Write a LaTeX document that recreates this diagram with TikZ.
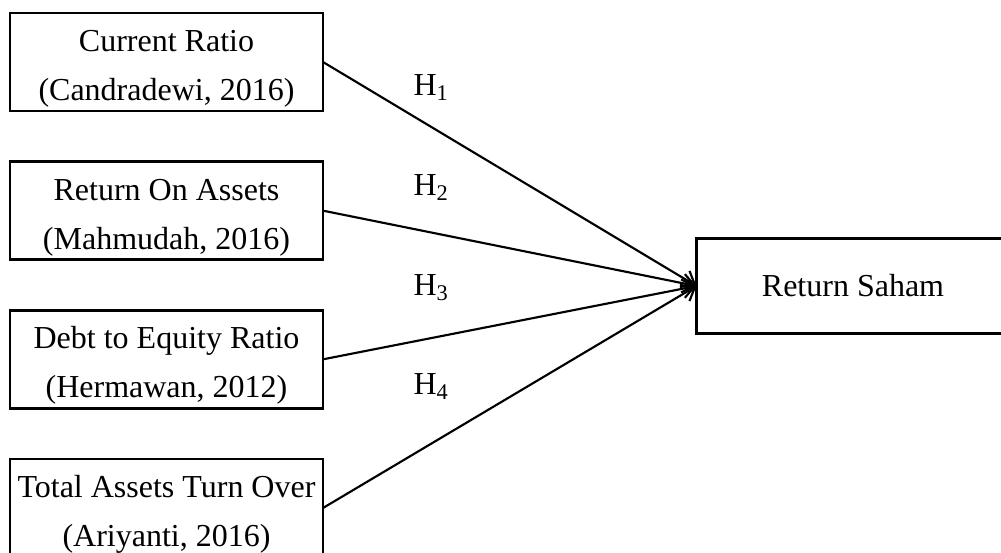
\documentclass[tikz,border=0pt]{standalone}
\usepackage{fontspec}
\setmainfont{Liberation Serif}
\usetikzlibrary{arrows.meta,positioning}
\newcommand{\topstrut}{\rule{0pt}{26pt}}

\begin{document}
\begin{tikzpicture}[x=0.75pt,y=-0.75pt,node distance=38pt and 38pt,
 box/.style={draw,line width=1.8pt,outer sep=0pt,inner sep=0pt,align=center,font=\fontsize{24}{36.75}\selectfont,minimum width=234.75pt,minimum height=73.5pt},
 hyp/.style={font=\fontsize{24}{28}\selectfont,inner sep=0pt},
 arrow/.style={-{Straight Barb[length=9pt,width=14pt]},line width=1.6pt}]
\path[use as bounding box,clip] (0,0) rectangle (1001,553);
\node[box] (cr) at (166.5,62) {\topstrut Current Ratio\\(Candradewi, 2016)};
\node[box,below=of cr] (roa) {\topstrut Return On Assets\\(Mahmudah, 2016)};
\node[box,below=of roa] (der) {\topstrut Debt to Equity Ratio\\(Hermawan, 2012)};
\node[box,below=of der] (tato) {\topstrut Total Assets Turn Over\\(Ariyanti, 2016)};
\node[box,minimum height=71.25pt] (rs) at (853,286) {Return Saham};
\draw[arrow] (cr.east)--(rs.west);
\draw[arrow] (roa.east)--(rs.west);
\draw[arrow] (der.east)--(rs.west);
\draw[arrow] (tato.east)--(rs.west);
\node[hyp] (h1) at (431,88) {H\textsubscript{1}};
\node[hyp] (h2) at (431,188) {H\textsubscript{2}};
\node[hyp] (h3) at (431,288) {H\textsubscript{3}};
\node[hyp] (h4) at (431,387) {H\textsubscript{4}};
\end{tikzpicture}
\end{document}
